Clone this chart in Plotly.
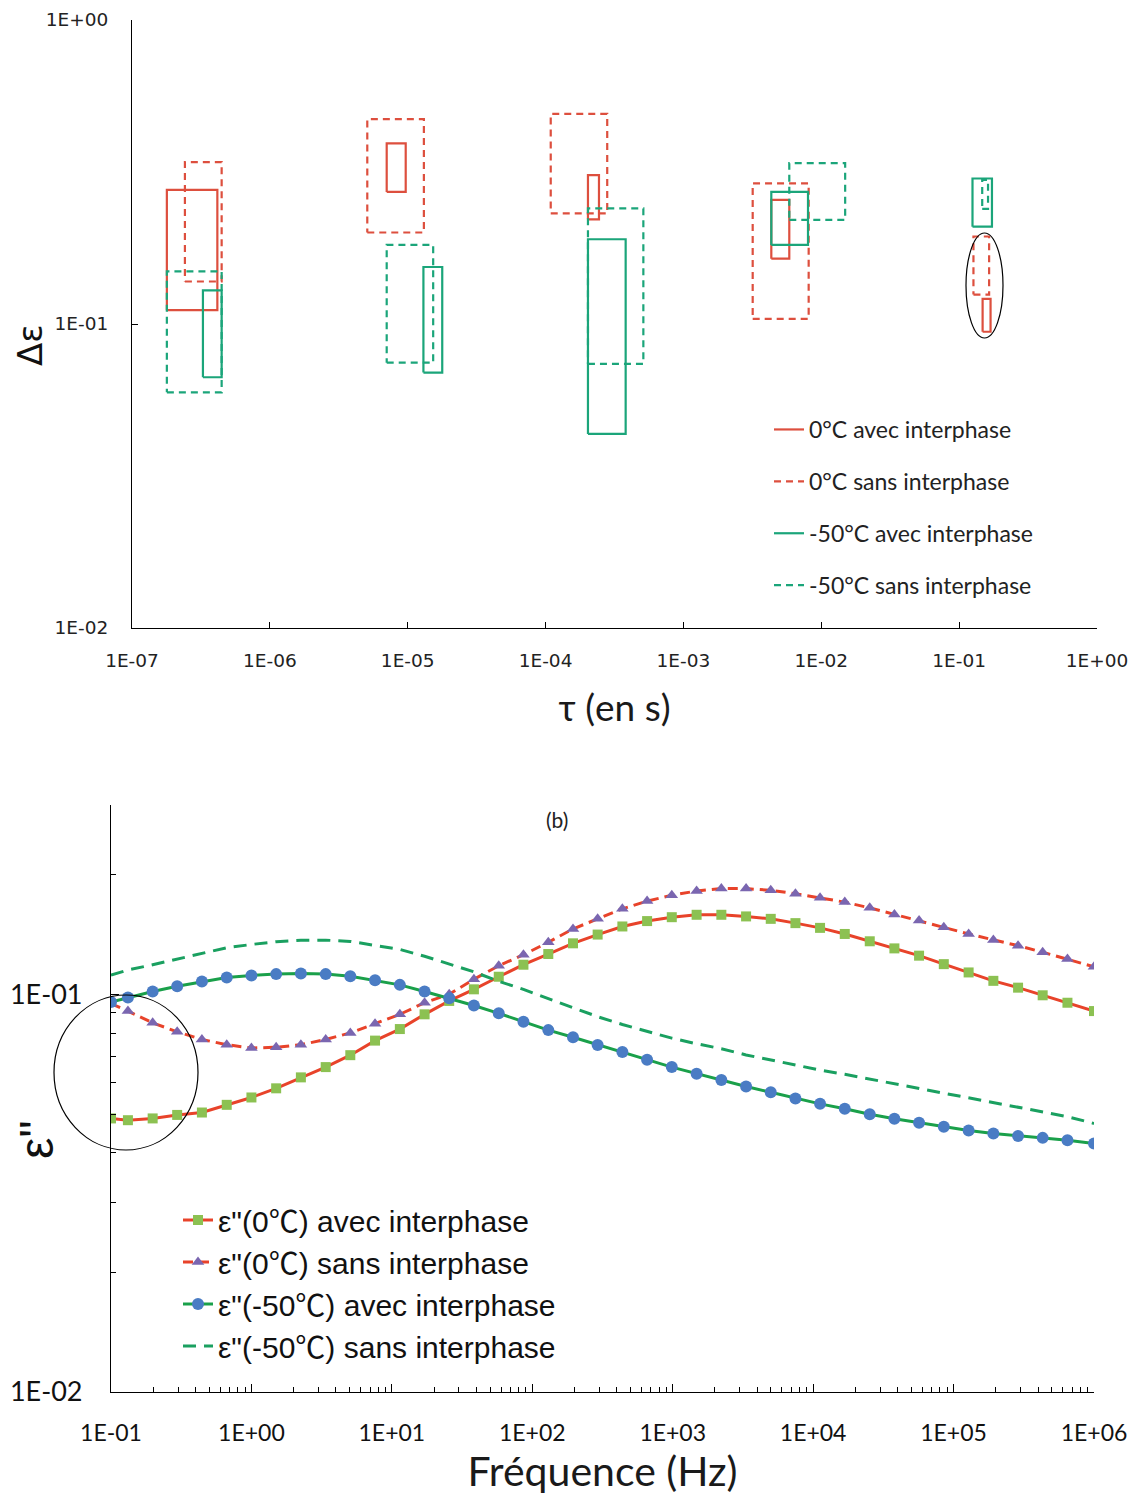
import plotly.graph_objects as go

# page body has an 8px margin: the figure starts at (8, 8) in the window
W, H = 1120, 1488
OFF = 8

# ---------------- Top chart data: relaxation-time / strength boxes ----------------
# Each series: 5 boxes (tau_min, tau_max, de_min, de_max)
top_names = ["0°C avec interphase", "0°C sans interphase",
             "-50°C avec interphase", "-50°C sans interphase"]
red0_avec_tau_min = [1.79e-7, 7.04e-6, 2.03e-4, 4.34e-3, 0.148]
red0_avec_tau_max = [4.16e-7, 9.67e-6, 2.44e-4, 5.86e-3, 0.169]
red0_avec_de_min = [0.111, 0.272, 0.221, 0.164, 0.0943]
red0_avec_de_max = [0.276, 0.393, 0.309, 0.256, 0.121]

red0_sans_tau_min = [2.42e-7, 5.09e-6, 1.09e-4, 3.18e-3, 0.127]
red0_sans_tau_max = [4.47e-7, 1.31e-5, 2.80e-4, 8.10e-3, 0.165]
red0_sans_de_min = [0.138, 0.200, 0.231, 0.104, 0.125]
red0_sans_de_max = [0.341, 0.472, 0.491, 0.290, 0.194]

g50_avec_tau_min = [3.27e-7, 1.30e-5, 2.03e-4, 4.34e-3, 0.125]
g50_avec_tau_max = [4.47e-7, 1.78e-5, 3.81e-4, 8.01e-3, 0.173]
g50_avec_de_min = [0.0668, 0.0692, 0.0435, 0.182, 0.209]
g50_avec_de_max = [0.129, 0.154, 0.190, 0.272, 0.301]

g50_sans_tau_min = [1.79e-7, 7.04e-6, 2.03e-4, 5.86e-3, 0.147]
g50_sans_tau_max = [4.47e-7, 1.53e-5, 5.12e-4, 1.49e-2, 0.162]
g50_sans_de_min = [0.0596, 0.0746, 0.0739, 0.220, 0.239]
g50_sans_de_max = [0.149, 0.182, 0.240, 0.338, 0.298]

top_xtick_vals = [1e-7, 1e-6, 1e-5, 1e-4, 1e-3, 1e-2, 1e-1, 1e0]
top_xtick_text = ["1E-07", "1E-06", "1E-05", "1E-04", "1E-03", "1E-02", "1E-01", "1E+00"]
top_ytick_vals = [1e-2, 1e-1, 1e0]
top_ytick_text = ["1E-02", "1E-01", "1E+00"]

# ---------------- Bottom chart data: loss factor vs frequency ----------------
freq = [0.1, 0.132, 0.198, 0.296, 0.444, 0.667, 1.0, 1.5, 2.25, 3.38, 5.06, 7.59,
        11.4, 17.1, 25.6, 38.4, 57.7, 86.5, 130, 195, 292, 438, 657, 985, 1480,
        2220, 3330, 4990, 7480, 11200, 16800, 25300, 37900, 56800, 85200, 128000,
        192000, 288000, 431000, 647000, 1000000]
eps_0_avec = [0.0488, 0.0483, 0.0488, 0.0498, 0.0505, 0.0528, 0.0551, 0.0581, 0.0619,
              0.0657, 0.0704, 0.0766, 0.0819, 0.0892, 0.0964, 0.1031, 0.1109, 0.1189,
              0.1265, 0.1346, 0.1416, 0.1484, 0.1531, 0.1566, 0.1588, 0.1588, 0.1573,
              0.1551, 0.1513, 0.1472, 0.1421, 0.1362, 0.1307, 0.1253, 0.1193, 0.1137,
              0.1083, 0.1041, 0.0996, 0.0954, 0.0909]
eps_0_sans = [0.0949, 0.0909, 0.0849, 0.0806, 0.0771, 0.0748, 0.0734, 0.0737, 0.0748,
              0.0771, 0.0801, 0.0845, 0.0892, 0.0954, 0.1002, 0.1093, 0.1182, 0.1260,
              0.1354, 0.1463, 0.1551, 0.1644, 0.1719, 0.1778, 0.1823, 0.1848, 0.1848,
              0.1830, 0.1794, 0.1752, 0.1709, 0.1653, 0.1591, 0.1537, 0.1478, 0.1421,
              0.1373, 0.1328, 0.1278, 0.1229, 0.1175]
eps_50_avec = [0.0958, 0.0983, 0.1018, 0.1050, 0.1079, 0.1104, 0.1117, 0.1126, 0.1130,
               0.1126, 0.1112, 0.1087, 0.1058, 0.1018, 0.0979, 0.0939, 0.0897, 0.0854,
               0.0814, 0.0781, 0.0747, 0.0717, 0.0686, 0.0657, 0.0632, 0.0610, 0.0587,
               0.0568, 0.0548, 0.0531, 0.0516, 0.0500, 0.0487, 0.0476, 0.0465, 0.0455,
               0.0447, 0.0441, 0.0436, 0.0430, 0.0422]
eps_50_sans = [0.1119, 0.1153, 0.1189, 0.1229, 0.1268, 0.1312, 0.1337, 0.1359, 0.1371,
               0.1371, 0.1361, 0.1331, 0.1299, 0.1249, 0.1195, 0.1141, 0.1080, 0.1031,
               0.0977, 0.0926, 0.0880, 0.0841, 0.0807, 0.0777, 0.0752, 0.0731, 0.0705,
               0.0684, 0.0663, 0.0646, 0.0630, 0.0613, 0.0597, 0.0580, 0.0565, 0.0551,
               0.0535, 0.0521, 0.0507, 0.0493, 0.0474]
bot_names = ['ε"(0℃) avec interphase', 'ε"(0℃) sans interphase',
             'ε"(-50℃) avec interphase', 'ε"(-50℃) sans interphase']
bot_xtick_vals = [0.1, 1, 10, 100, 1e3, 1e4, 1e5, 1e6]
bot_xtick_text = ["1E-01", "1E+00", "1E+01", "1E+02", "1E+03", "1E+04", "1E+05", "1E+06"]
bot_ytick_vals = [0.01, 0.1]
bot_ytick_text = ["1E-02", "1E-01"]


def px(x):
    return (x - OFF) / W


def py(y):
    return 1 - (y - OFF) / H


def boxes(tmin, tmax, dmin, dmax):
    xs, ys = [], []
    for a, b, c, d in zip(tmin, tmax, dmin, dmax):
        xs += [a, b, b, a, a, None]
        ys += [c, c, d, d, c, None]
    return xs, ys


RED = "#DD4F3E"
GREEN = "#1BA57A"

fig = go.Figure()

top_series = [
    (red0_avec_tau_min, red0_avec_tau_max, red0_avec_de_min, red0_avec_de_max, RED, "solid"),
    (red0_sans_tau_min, red0_sans_tau_max, red0_sans_de_min, red0_sans_de_max, RED, "7px,5px"),
    (g50_avec_tau_min, g50_avec_tau_max, g50_avec_de_min, g50_avec_de_max, GREEN, "solid"),
    (g50_sans_tau_min, g50_sans_tau_max, g50_sans_de_min, g50_sans_de_max, GREEN, "7px,5px"),
]
for i, (a, b, c, d, col, dash) in enumerate(top_series):
    xs, ys = boxes(a, b, c, d)
    fig.add_trace(go.Scatter(x=xs, y=ys, mode="lines", name=top_names[i],
                             line=dict(color=col, width=2.2, dash=dash),
                             xaxis="x", yaxis="y", legend="legend",
                             legendgroup="t%d" % i))

# bottom traces
fig.add_trace(go.Scatter(x=freq, y=eps_0_avec, mode="lines+markers", name=bot_names[0],
                         line=dict(color="#E8432A", width=3),
                         marker=dict(symbol="square", size=10, color="#8CC152"),
                         xaxis="x2", yaxis="y2", legend="legend2", legendgroup="b0"))
fig.add_trace(go.Scatter(x=freq, y=eps_0_sans, mode="lines+markers", name=bot_names[1],
                         line=dict(color="#E8432A", width=3, dash="10px,6px"),
                         marker=dict(symbol="triangle-up", size=11, color="#7A66B0"),
                         xaxis="x2", yaxis="y2", legend="legend2", legendgroup="b1"))
fig.add_trace(go.Scatter(x=freq, y=eps_50_avec, mode="lines+markers", name=bot_names[2],
                         line=dict(color="#1AA04A", width=3),
                         marker=dict(symbol="circle", size=12, color="#4A7CC4"),
                         xaxis="x2", yaxis="y2", legend="legend2", legendgroup="b2"))
fig.add_trace(go.Scatter(x=freq, y=eps_50_sans, mode="lines", name=bot_names[3],
                         line=dict(color="#1AA060", width=3, dash="13px,8px"),
                         xaxis="x2", yaxis="y2", legend="legend2", legendgroup="b3"))

axis_common = dict(showgrid=False, zeroline=False, showline=True, linecolor="black",
                   linewidth=1.2, ticks="inside", tickcolor="black", type="log",
                   automargin=False, ticklabeloverflow="allow")

fig.update_layout(
    width=W, height=H,
    margin=dict(l=0, r=0, t=0, b=0, autoexpand=False),
    paper_bgcolor="white", plot_bgcolor="white",
    font=dict(family="Lato", color="#1a1a1a"),
    xaxis=dict(**axis_common, domain=[px(132), px(1097)], range=[-7, 0], anchor="y",
               tickvals=top_xtick_vals, ticktext=top_xtick_text, ticklen=6,
               tickfont=dict(family="DejaVu Sans", size=18.5, color="#222"),
               ticklabelstandoff=16,
               title=dict(text="τ (en s)", font=dict(family="Lato", size=37), standoff=24)),
    yaxis=dict(**axis_common, domain=[py(628), py(20)], range=[-2, 0], anchor="x",
               tickvals=top_ytick_vals, ticktext=top_ytick_text, ticklen=6,
               tickfont=dict(family="DejaVu Sans", size=18.5, color="#222"),
               ticklabelstandoff=19),
    xaxis2=dict(**axis_common, domain=[px(111), px(1094)], range=[-1, 6], anchor="y2",
                tickvals=bot_xtick_vals, ticktext=bot_xtick_text, ticklen=8,
                minor=dict(ticks="inside", ticklen=5, tickcolor="black", dtick="D1", showgrid=False),
                tickfont=dict(family="Lato", size=23, color="#111"),
                ticklabelstandoff=20,
                title=dict(text="Fréquence (Hz)", font=dict(family="Lato", size=41), standoff=12)),
    yaxis2=dict(**axis_common, domain=[py(1392), py(805)], range=[-2, -0.5229], anchor="x2",
                tickvals=bot_ytick_vals, ticktext=bot_ytick_text, ticklen=8,
                minor=dict(ticks="inside", ticklen=5, tickcolor="black", dtick="D1", showgrid=False),
                tickfont=dict(family="Lato", size=27, color="#111"),
                ticklabelstandoff=22),
    legend=dict(x=px(769), y=py(408), xanchor="left", yanchor="top",
                font=dict(family="Lato", size=23, color="#222"),
                traceorder="grouped", tracegroupgap=19, bgcolor="rgba(0,0,0,0)"),
    legend2=dict(x=px(178), y=py(1194), xanchor="left", yanchor="top",
                 font=dict(family="Liberation Sans, Noto Sans CJK SC", size=30, color="#111"),
                 traceorder="grouped", tracegroupgap=0, bgcolor="rgba(0,0,0,0)"),
    shapes=[
        dict(type="circle", xref="paper", yref="paper", x0=px(966), x1=px(1003),
             y0=py(338), y1=py(233), line=dict(color="black", width=1.2)),
        dict(type="circle", xref="paper", yref="paper", x0=px(54), x1=px(198),
             y0=py(1150), y1=py(995), line=dict(color="black", width=1.2)),
    ],
    annotations=[
        dict(text="Δε", xref="paper", yref="paper", x=px(30), y=py(345), showarrow=False,
             xanchor="center", yanchor="middle", textangle=-90,
             font=dict(family="DejaVu Sans", size=34, color="#111")),
        dict(text='ε"', xref="paper", yref="paper", x=px(36), y=py(1140), showarrow=False,
             xanchor="center", yanchor="middle", textangle=-90,
             font=dict(family="Liberation Sans", size=48, color="#111")),
        dict(text="(b)", xref="paper", yref="paper", x=px(557), y=py(820), showarrow=False,
             xanchor="center", yanchor="middle",
             font=dict(family="Lato", size=21, color="#222")),
    ],
)

fig.write_html("out.html")
